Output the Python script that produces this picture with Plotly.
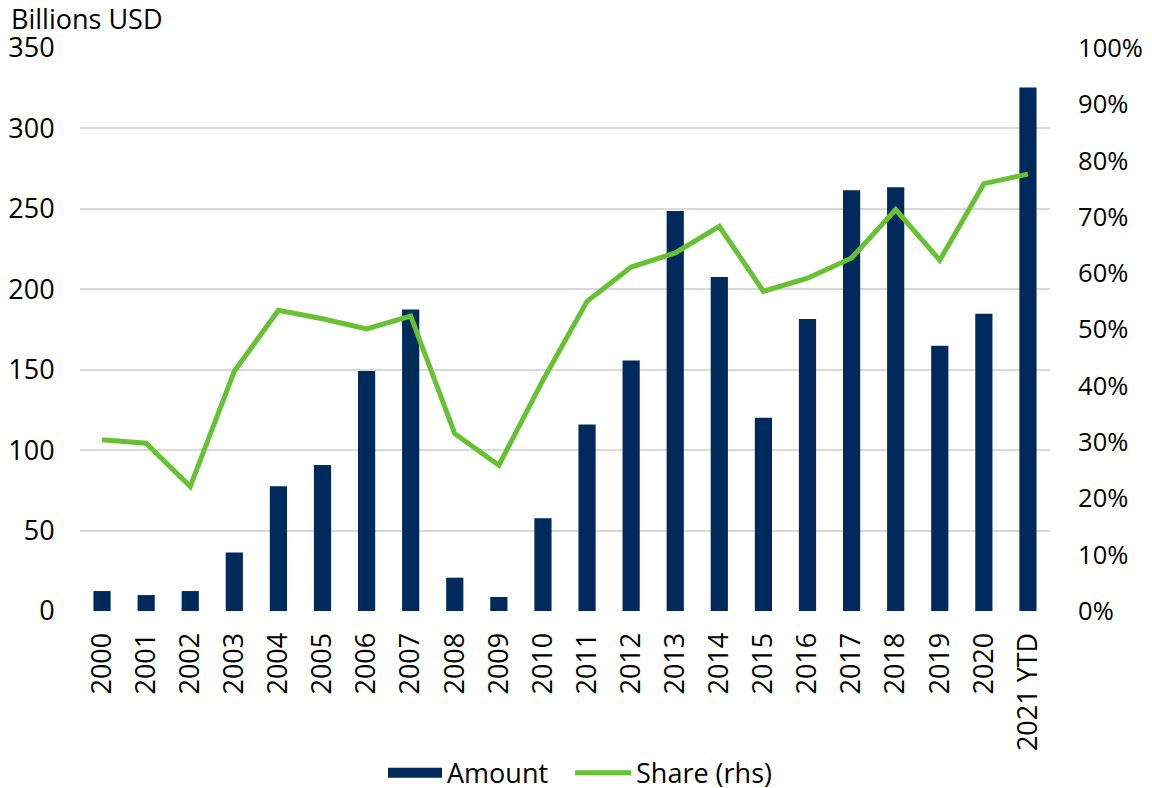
import plotly.graph_objects as go

years = ["2000", "2001", "2002", "2003", "2004", "2005", "2006", "2007", "2008", "2009",
         "2010", "2011", "2012", "2013", "2014", "2015", "2016", "2017", "2018", "2019",
         "2020", "2021 YTD"]
amount = [12.4, 9.9, 12.4, 36.3, 77.5, 90.7, 149.2, 187.5, 20.7, 8.7,
          57.6, 116.0, 155.8, 248.6, 207.6, 120.2, 181.5, 261.6, 263.4, 164.9,
          184.8, 325.5]
share = [30.4, 29.8, 22.1, 42.6, 53.4, 51.9, 50.1, 52.4, 31.5, 25.9,
         41.0, 55.0, 61.1, 63.6, 68.3, 56.8, 59.1, 62.7, 71.3, 62.3,
         75.9, 77.6]
left_ticks = [0, 50, 100, 150, 200, 250, 300, 350]
right_ticks = [0, 10, 20, 30, 40, 50, 60, 70, 80, 90, 100]
right_labels = [f"{v}%" for v in right_ticks]

NAVY = "#002A5C"
GREEN = "#66C232"
FONT = "Open Sans"
FS = 27

fig = go.Figure()
fig.add_trace(go.Bar(x=years, y=amount, name="Amount", marker=dict(color=NAVY, line=dict(width=0)),
                     yaxis="y", showlegend=False, legendgroup="amount"))
# legend key for the bars (wide rectangle like the reference)
fig.add_trace(go.Scatter(x=[None], y=[None], name="Amount", mode="lines",
                         line=dict(color=NAVY, width=11), legendgroup="amount",
                         hoverinfo="skip", legend="legend"))
fig.add_trace(go.Scatter(x=years, y=share, name="Share (rhs)", mode="lines",
                         line=dict(color=GREEN, width=5), yaxis="y2", legend="legend2"))

fig.update_layout(
    width=1144, height=780,
    margin=dict(l=72, r=102, t=40, b=177, autoexpand=False),
    paper_bgcolor="white", plot_bgcolor="white",
    font=dict(family=FONT, size=FS, color="#000000"),
    bargap=0.61,
    xaxis=dict(type="category", tickangle=-90, showgrid=False, showline=False,
               ticks="outside", ticklen=10, tickcolor="rgba(0,0,0,0)",
               zeroline=False, automargin=False),
    yaxis=dict(range=[0, 350], tickvals=left_ticks, showgrid=True, gridcolor="#D9D9D9",
               gridwidth=1.5, zeroline=False, showline=False, automargin=False,
               ticks="outside", ticklen=19, tickcolor="rgba(0,0,0,0)"),
    yaxis2=dict(range=[0, 100], tickvals=right_ticks, ticktext=right_labels,
                overlaying="y", side="right", showgrid=False, zeroline=False,
                automargin=False, tickfont=dict(size=25.5),
                ticks="outside", ticklen=22, tickcolor="rgba(0,0,0,0)"),
    legend=dict(orientation="h", x=0.3124, xanchor="left", y=-0.288, yanchor="middle",
                itemwidth=54),
    legend2=dict(orientation="h", x=0.5052, xanchor="left", y=-0.288, yanchor="middle",
                 itemwidth=56),
    annotations=[dict(text="Billions USD", xref="paper", yref="paper", x=0, y=1,
                      xshift=-71, yshift=30, xanchor="left", yanchor="middle",
                      showarrow=False)],
)

fig.write_html("out.html")
